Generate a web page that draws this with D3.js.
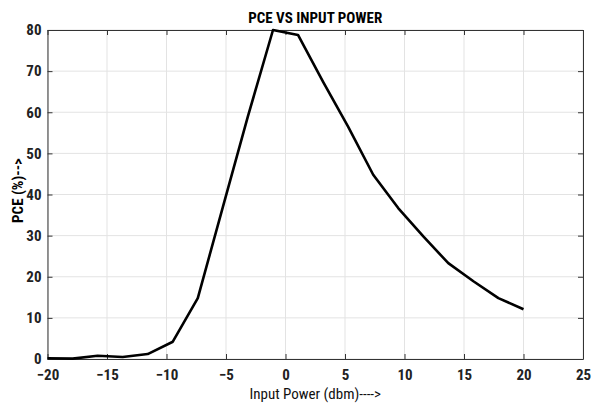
<!DOCTYPE html>
<html>
<head>
<meta charset="utf-8">
<script src="https://cdn.jsdelivr.net/npm/d3@7"></script>
<style>
  body { margin: 0; background: #fff; }
  text { font-family: "Liberation Sans Narrow", "Roboto Condensed", "Liberation Sans", Arial, sans-serif; }
</style>
</head>
<body>
<script>
// input power (dbm) and power conversion efficiency (%)
var inputPower = [-20, -17.89, -15.79, -13.68, -11.58, -9.47, -7.37, -5.26, -3.16, -1.05,
                  1.05, 3.16, 5.26, 7.37, 9.47, 11.58, 13.68, 15.79, 17.89, 20]
var pce = [0.2, 0.1, 0.8, 0.5, 1.2, 4.2, 14.8, 37, 59, 80,
           78.8, 67.4, 56.5, 44.8, 36.7, 29.8, 23.3, 18.9, 14.8, 12.1]
var xTicks = [-20, -15, -10, -5, 0, 5, 10, 15, 20, 25]
var yTicks = [0, 10, 20, 30, 40, 50, 60, 70, 80]

var width = 597, height = 403
var margin = {top: 30, right: 14, bottom: 44, left: 47.5}
var iw = width - margin.left - margin.right
var ih = height - margin.top - margin.bottom

var svg = d3.select('body').append('svg')
    .attr('width', width)
    .attr('height', height)

var g = svg.append('g')
    .attr('transform', 'translate(' + margin.left + ',' + margin.top + ')')

var x = d3.scaleLinear().domain([-20, 25]).range([0, iw])
var y = d3.scaleLinear().domain([0, 80]).range([ih, 0])

// grid
g.selectAll('line.gx')
  .data(xTicks)
  .enter().append('line')
    .attr('x1', d => x(d)).attr('x2', d => x(d))
    .attr('y1', 0).attr('y2', ih)
    .attr('stroke', '#e3e3e3')
g.selectAll('line.gy')
  .data(yTicks)
  .enter().append('line')
    .attr('y1', d => y(d)).attr('y2', d => y(d))
    .attr('x1', 0).attr('x2', iw)
    .attr('stroke', '#e3e3e3')

// axes, MATLAB style ticks pointing in
function styleAxis(sel) {
  sel.select('.domain').attr('stroke', '#333')
  sel.selectAll('.tick line').attr('stroke', '#333')
  sel.selectAll('.tick text')
    .attr('fill', '#222')
    .attr('font-size', 15)
    .attr('font-weight', 'bold')
}

g.append('g')
  .attr('transform', 'translate(0,' + ih + ')')
  .call(d3.axisBottom(x).tickValues(xTicks).tickSizeInner(-5).tickSizeOuter(0).tickPadding(10))
  .call(styleAxis)
g.append('g')
  .call(d3.axisTop(x).tickValues(xTicks).tickSizeInner(-5).tickSizeOuter(0).tickFormat(''))
  .call(styleAxis)
g.append('g')
  .call(d3.axisLeft(y).tickValues(yTicks).tickSizeInner(-5).tickSizeOuter(0).tickPadding(6))
  .call(styleAxis)
g.append('g')
  .attr('transform', 'translate(' + iw + ',0)')
  .call(d3.axisRight(y).tickValues(yTicks).tickSizeInner(-5).tickSizeOuter(0).tickFormat(''))
  .call(styleAxis)

// curve
var line = d3.line()
    .x((d, i) => x(inputPower[i]))
    .y(d => y(d))

g.append('path')
  .datum(pce)
  .attr('fill', 'none')
  .attr('stroke', '#000')
  .attr('stroke-width', 2.6)
  .attr('stroke-linejoin', 'round')
  .attr('d', line)

// labels
svg.append('text')
  .attr('x', margin.left + iw / 2).attr('y', 23)
  .attr('text-anchor', 'middle')
  .attr('font-size', 15).attr('font-weight', 'bold')
  .text('PCE VS INPUT POWER')

svg.append('text')
  .attr('x', margin.left + iw / 2).attr('y', 399)
  .attr('text-anchor', 'middle')
  .attr('font-size', 15)
  .attr('fill', '#111')
  .text('Input Power (dbm)---->')

svg.append('text')
  .attr('transform', 'translate(23,' + (margin.top + ih / 2 - 4) + ') rotate(-90)')
  .attr('text-anchor', 'middle')
  .attr('font-size', 15).attr('font-weight', 'bold')
  .text('PCE (%)-->')
</script>
</body>
</html>
